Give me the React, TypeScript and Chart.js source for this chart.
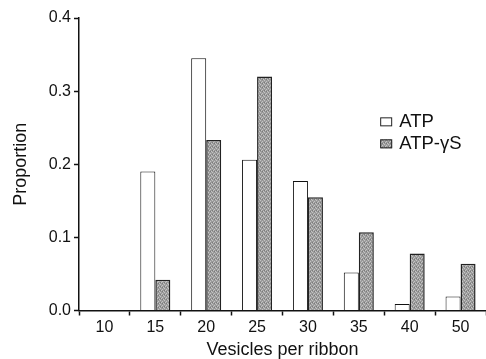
import React, { useEffect, useRef } from "react";
import { Chart, registerables } from "chart.js";

Chart.register(...registerables);

const categories = ["10", "15", "20", "25", "30", "35", "40", "50"];
const atpValues = [0, 0.19, 0.345, 0.206, 0.177, 0.052, 0.009, 0.019];
const atpGammaSValues = [0, 0.042, 0.233, 0.32, 0.155, 0.107, 0.078, 0.064];
const seriesLabels = ["ATP", "ATP-\u03b3S"];
const yTicks = [0, 0.1, 0.2, 0.3, 0.4];

const FONT = "'Liberation Sans', Arial, Helvetica, sans-serif";

function makePattern(): CanvasPattern | string {
  const c = document.createElement("canvas");
  c.width = 4;
  c.height = 4;
  const ctx = c.getContext("2d");
  if (!ctx) return "#a0a0a0";
  ctx.fillStyle = "#9a9a9a";
  ctx.fillRect(0, 0, 4, 4);
  ctx.fillStyle = "#c4c4c4";
  ctx.fillRect(0, 0, 1, 1);
  ctx.fillRect(2, 1, 1, 1);
  ctx.fillRect(1, 2, 1, 1);
  ctx.fillRect(3, 3, 1, 1);
  ctx.fillStyle = "#7a7a7a";
  ctx.fillRect(2, 3, 1, 1);
  ctx.fillRect(0, 2, 1, 1);
  const p = ctx.createPattern(c, "repeat");
  return p || "#a0a0a0";
}

export default function App() {
  const ref = useRef<HTMLCanvasElement | null>(null);

  useEffect(() => {
    if (!ref.current) return;
    const pattern = makePattern();

    const legendPlugin = {
      id: "customLegend",
      afterDraw(chart: any) {
        const { ctx, chartArea } = chart;
        const x0 = chartArea.left + (chartArea.right - chartArea.left) * 0.74;
        const y0 = chartArea.top + (chartArea.bottom - chartArea.top) * 0.355;
        ctx.save();
        ctx.font = `18.5px ${FONT}`;
        ctx.textBaseline = "middle";
        chart.data.datasets.forEach((ds: any, i: number) => {
          const y = y0 + i * 22;
          ctx.fillStyle = ds.backgroundColor;
          ctx.fillRect(x0, y - 4.5, 12, 9);
          ctx.strokeStyle = "#222";
          ctx.lineWidth = 1;
          ctx.strokeRect(x0 + 0.5, y - 4.5 + 0.5, 11, 8);
          ctx.fillStyle = "#111";
          ctx.fillText(ds.label, x0 + 19, y);
        });
        ctx.restore();
      },
    };

    const chart = new Chart(ref.current, {
      type: "bar",
      data: {
        labels: categories,
        datasets: [
          {
            label: seriesLabels[0],
            data: atpValues,
            backgroundColor: "#ffffff",
            borderColor: "#111111",
            borderWidth: 1,
            categoryPercentage: 0.59,
            barPercentage: 1,
          },
          {
            label: seriesLabels[1],
            data: atpGammaSValues,
            backgroundColor: pattern as any,
            borderColor: "#222222",
            borderWidth: 1.5,
            categoryPercentage: 0.59,
            barPercentage: 1,
          },
        ],
      },
      options: {
        animation: false,
        responsive: false,
        maintainAspectRatio: false,
        layout: { padding: { left: 0, right: 0, top: 18, bottom: 0 } },
        plugins: {
          legend: { display: false },
          tooltip: { enabled: false },
        },
        scales: {
          x: {
            offset: true,
            grid: {
              offset: true,
              drawOnChartArea: false,
              tickLength: 5,
              color: "#111",
              tickWidth: 1.5,
            },
            border: { color: "#111", width: 1.5 },
            ticks: {
              color: "#111",
              font: { family: FONT, size: 16 },
              padding: 2,
              maxRotation: 0,
            },
            title: {
              display: true,
              text: "Vesicles per ribbon",
              color: "#111",
              font: { family: FONT, size: 18, lineHeight: 1 },
              padding: { top: 0, bottom: 0 },
            },
            afterFit(scale: any) {
              scale.height = 48.5;
            },
          },
          y: {
            min: 0,
            max: 0.4,
            grid: {
              drawOnChartArea: false,
              tickLength: 5,
              color: "#111",
              tickWidth: 1.5,
            },
            border: { color: "#111", width: 1.5 },
            ticks: {
              stepSize: 0.1,
              color: "#111",
              font: { family: FONT, size: 16 },
              padding: 3,
              callback: (v: any) => Number(v).toFixed(1),
            },
            afterBuildTicks(scale: any) {
              scale.ticks = yTicks.map((v) => ({ value: v }));
            },
            title: {
              display: true,
              text: "Proportion",
              color: "#111",
              font: { family: FONT, size: 18, lineHeight: 1 },
              padding: { top: 12, bottom: 0 },
            },
            afterFit(scale: any) {
              scale.width = 79;
            },
          },
        },
      },
      plugins: [legendPlugin],
    });

    return () => chart.destroy();
  }, []);

  return (
    <div style={{ position: "fixed", left: 0, top: 0, width: 486, height: 359, background: "#fff" }}>
      <canvas ref={ref} width={486} height={359} style={{ display: "block" }} />
    </div>
  );
}
